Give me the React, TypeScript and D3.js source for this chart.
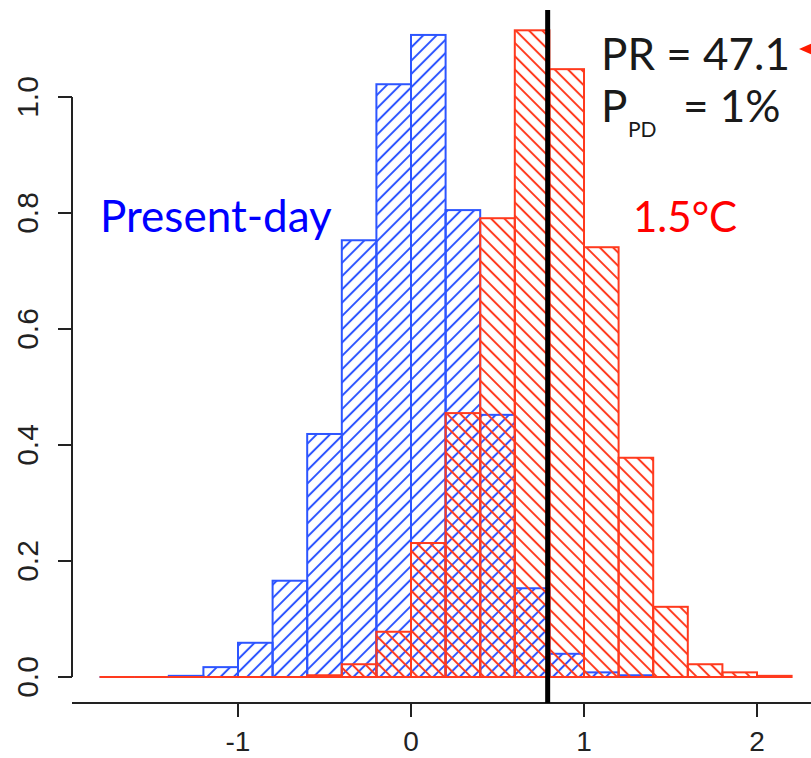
import React from "react";
import * as d3 from "d3";

const W = 811;
const H = 758;

// histogram bins (left edges, width 0.2)
const binStarts = [-1.8, -1.6, -1.4, -1.2, -1.0, -0.8, -0.6, -0.4, -0.2, 0.0, 0.2, 0.4, 0.6, 0.8, 1.0, 1.2, 1.4, 1.6, 1.8, 2.0];
const binWidth = 0.2;
const presentDay = [0, 0, 0.002, 0.017, 0.059, 0.166, 0.419, 0.753, 1.022, 1.107, 0.805, 0.452, 0.153, 0.04, 0.008, 0.003, 0, 0, 0, 0];
const warm15 = [0, 0, 0, 0, 0, 0, 0.003, 0.022, 0.078, 0.231, 0.455, 0.791, 1.115, 1.048, 0.741, 0.378, 0.121, 0.022, 0.008, 0.002];
const xTicks = [-1, 0, 1, 2];
const yTicks = [0, 0.2, 0.4, 0.6, 0.8, 1.0];
const threshold = 0.79;
const thresholdTop = 1.15;

const BLUE = "#2d55ff";
const RED = "#ff3a1e";

export default function App() {
  const x = d3.scaleLinear().domain([-1, 2]).range([238, 757]);
  const y = d3.scaleLinear().domain([0, 1]).range([677, 97]);
  const sp = 9.4;

  const bars = (vals: number[], color: string, pat: string) =>
    vals.map((v, i) => {
      const x0 = x(binStarts[i]);
      const x1 = x(binStarts[i] + binWidth);
      const y0 = y(v);
      if (y(0) - y0 < 0.5) {
        return <line key={pat + i} x1={x0} x2={x1} y1={y0} y2={y0} stroke={color} strokeWidth={2.2} />;
      }
      return (
        <rect
          key={pat + i}
          x={x0}
          y={y0}
          width={x1 - x0}
          height={y(0) - y0}
          fill={`url(#${pat})`}
          stroke={color}
          strokeWidth={2}
        />
      );
    });

  return (
    <svg width={W} height={H} style={{ position: "absolute", left: 0, top: 0, background: "#fff" }}>
      <defs>
        <pattern id="hb" patternUnits="userSpaceOnUse" width={sp} height={sp} patternTransform="rotate(45)">
          <line x1={sp / 2} y1={-1} x2={sp / 2} y2={sp + 1} stroke={BLUE} strokeWidth={2} />
        </pattern>
        <pattern id="hr" patternUnits="userSpaceOnUse" width={sp} height={sp} patternTransform="rotate(-45)">
          <line x1={sp / 2} y1={-1} x2={sp / 2} y2={sp + 1} stroke={RED} strokeWidth={2} />
        </pattern>
      </defs>
      <rect x={0} y={0} width={W} height={H} fill="#fff" />
      {bars(presentDay, BLUE, "hb")}
      {bars(warm15, RED, "hr")}

      {/* y axis */}
      <line x1={72} x2={72} y1={y(0)} y2={y(1)} stroke="#222" strokeWidth={2} />
      {yTicks.map((t) => (
        <g key={"yt" + t}>
          <line x1={58} x2={72} y1={y(t)} y2={y(t)} stroke="#222" strokeWidth={2} />
          <text
            transform={`translate(38,${y(t)}) rotate(-90)`}
            textAnchor="middle"
            fontFamily="Liberation Sans, Arial, sans-serif"
            fontSize={30}
            fill="#222"
          >
            {t.toFixed(1)}
          </text>
        </g>
      ))}

      {/* x axis */}
      <line x1={72} x2={W} y1={703} y2={703} stroke="#222" strokeWidth={2} />
      {xTicks.map((t) => (
        <g key={"xt" + t}>
          <line x1={x(t)} x2={x(t)} y1={703} y2={717} stroke="#222" strokeWidth={2} />
          <text
            x={x(t)}
            y={751}
            textAnchor="middle"
            fontFamily="Liberation Sans, Arial, sans-serif"
            fontSize={28}
            fill="#222"
          >
            {t < 0 ? "-" + Math.abs(t) : String(t)}
          </text>
        </g>
      ))}

      {/* threshold line */}
      <line x1={x(threshold)} x2={x(threshold)} y1={y(thresholdTop)} y2={703} stroke="#000" strokeWidth={5} />

      {/* labels */}
      <text x={100} y={232} fontFamily="Lato, sans-serif" fontSize={44} fill="#0000ff">
        Present-day
      </text>
      <text x={633} y={232} fontFamily="Lato, sans-serif" fontSize={42} fill="#ff0000">
        1.5°C
      </text>
      <text x={601} y={70} fontFamily="Lato, sans-serif" fontSize={44} fill="#1a1a1a">
        PR = 47.1
      </text>
      <text x={601} y={122} fontFamily="Lato, sans-serif" fontSize={44} fill="#1a1a1a">
        P
      </text>
      <text x={628} y={137} fontFamily="Lato, sans-serif" fontSize={21} fill="#1a1a1a">
        PD
      </text>
      <text x={683} y={122} fontFamily="Lato, sans-serif" fontSize={44} fill="#1a1a1a">
        = 1%
      </text>
      <polygon points="799,49 815,42 815,56" fill="#ff1a00" />
    </svg>
  );
}
